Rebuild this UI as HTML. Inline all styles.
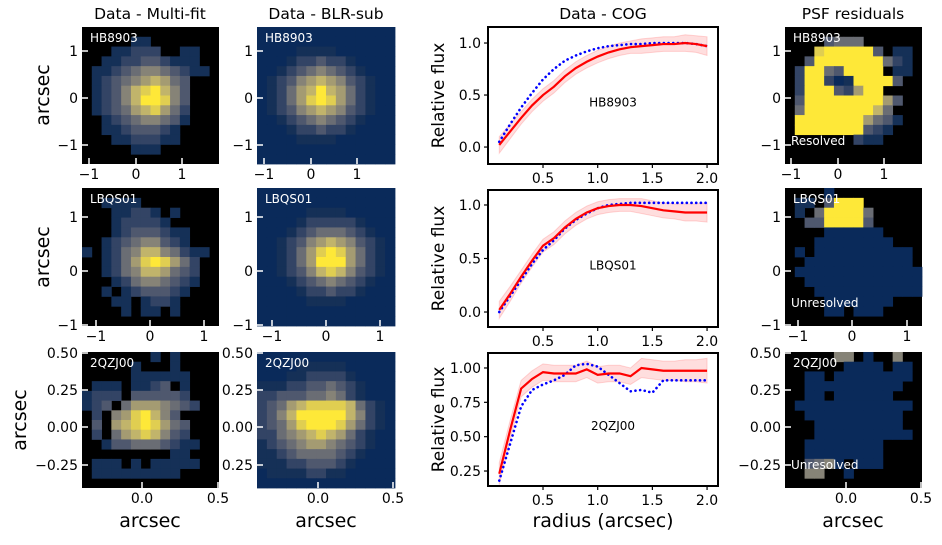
<!DOCTYPE html>
<html><head><meta charset="utf-8"><style>
body{margin:0;background:#fff;}
svg{display:block;font-family:"DejaVu Sans","Liberation Sans",sans-serif;}
</style></head><body>
<svg id="fig" width="942" height="545" viewBox="0 0 942 545" xmlns="http://www.w3.org/2000/svg"></svg>
<script>
// ---------- data ----------
const radius = [0.1,0.2,0.3,0.4,0.5,0.6,0.7,0.8,0.9,1.0,1.1,1.2,1.3,1.4,1.5,1.6,1.7,1.8,1.9,2.0];
const hbRed  = [0.02,0.15,0.28,0.40,0.50,0.58,0.68,0.76,0.82,0.87,0.91,0.94,0.96,0.97,0.98,0.99,0.99,1.0,0.99,0.97];
const hbBlue = [0.05,0.22,0.38,0.52,0.65,0.75,0.83,0.88,0.92,0.95,0.97,0.98,0.99,0.99,1.0,1.0,1.0,1.0,0.99,0.97];
const lbRed  = [0.02,0.17,0.33,0.48,0.62,0.69,0.79,0.87,0.93,0.97,0.99,1.0,1.0,0.99,0.97,0.95,0.94,0.93,0.93,0.93];
const lbBlue = [0.0,0.15,0.30,0.45,0.58,0.67,0.78,0.86,0.92,0.97,1.0,1.01,1.02,1.02,1.02,1.02,1.02,1.02,1.02,1.02];
const qzRed  = [0.23,0.55,0.85,0.92,0.97,0.96,0.96,0.96,0.99,0.95,0.96,0.96,0.94,1.0,0.99,0.98,0.98,0.98,0.98,0.98];
const qzBlue = [0.18,0.45,0.72,0.84,0.88,0.91,0.95,1.02,1.03,1.01,0.95,0.89,0.83,0.84,0.82,0.91,0.91,0.91,0.91,0.91];
const bandHalf = [0.08,0.07,0.06,0.06,0.06,0.06,0.06,0.06,0.06,0.06,0.06,0.06,0.06,0.07,0.07,0.07,0.07,0.08,0.08,0.09];
const xTicksCog = [0.5,1.0,1.5,2.0];
const yTicksCog12 = [0.0,0.5,1.0];
const yTicksCog3 = [0.25,0.50,0.75,1.00];

const gridA=["..............",".....11.......","...11222..11..","..1122332111..",".112345543211.",".1234567643...",".1235789753...",".1235799853...",".1234678642...","..123455431...","..11233321....","...1122211....",".....111......",".............."];
const gridB=["00000000000000","00000000000000","00001111000000","00012232210000","00123454321000","01235676532100","01246797642100","01246898642100","01235676532100","00123454321000","00012232210000","00001111000000","00000000000000","00000000000000"];
const gridC=["..............","..1111........","...11221.1....","...122221.....","...12333211...","..123455321...","1.12457754211.","..1246898642..","..1245776432..","...124554321..","..1.1233321...","...11.1221....","....1.11.1....",".............."];
const gridD=["00000000000000","00000000000000","00000111100000","00001222221000","00012344432100","00123567653210","00124689864210","00124699964210","00123578753210","00012345432100","00001223221000","00000111100000","00000000000000","00000000000000"];
const gridE=[".......1.1....",".....1...1....",".....111111...",".111.1123.1...","1222.333332...","123.46665432..",".2.5689753....",".3.67898643...",".2.46787532...","..1334443211..",".........11...",".111.1.11111..",".111111111....",".............."];
const gridF=["00000000000000","00001111100000","00011222210000","11122334321000","22333445421000","23467888874210","23579999975210","23468999864210","22456787642100","12345665432100","11234444321000","11122333210000","01111221100000","00000000000000"];
const gridG=["..............","....3444......","...8999993.11.","..39999999421.",".299439999.11.",".29920199993..",".299932699....",".39999999963..",".4999999974...",".99999996431..",".9999999321...",".......211....","..............",".............."];
const gridH=["....0.........",".11.3999......",".1.499994.....","..3399993.....","....000000....","...00000000...",".0.0000000000.","..00000000000.",".0000000000000","..000000000000","...00000000000","....0000000...","....00.000....",".............."];
const gridI=[".....55.0..5..","......0000.00.","..00.00000000.","..0000000000..","..00.000000...",".000000000000.","..0000000000..","...000000000..","...0000000000.","..00000000....","..00000000....","..3450.000....","..55..0.......",".............."];

// ---------- helpers ----------
const svg=document.getElementById('fig');
const NS='http://www.w3.org/2000/svg';
function mk(tag,attrs,parent){const e=document.createElementNS(NS,tag);for(const k in attrs)e.setAttribute(k,attrs[k]);(parent||svg).appendChild(e);return e;}
function txt(x,y,s,size,anchor,parent,extra){const e=mk('text',Object.assign({x:x,y:y,'font-size':size,'text-anchor':anchor||'middle',fill:'#000'},extra||{}),parent);e.textContent=s;return e;}
const stops=[[0,[0,34,78]],[0.25,[65,77,107]],[0.5,[124,123,120]],[0.75,[188,175,111]],[1,[254,232,56]]];
function cividis(t){for(let i=1;i<stops.length;i++){if(t<=stops[i][0]){const a=stops[i-1],b=stops[i];const f=(t-a[0])/(b[0]-a[0]);const c=a[1].map((v,j)=>Math.round(v+(b[1][j]-v)*f));return 'rgb('+c.join(',')+')';}}return 'rgb(254,232,56)';}
function colorOf(ch){if(ch==='0')return 'rgb(10,42,90)';return cividis(0.08+0.92*(parseInt(ch)-1)/8);}

function heat(grid,x0,y0,w,h,name,label,label2){
  const g=mk('g',{});
  
  
  mk('rect',{x:x0,y:y0,width:w,height:h,fill:'#000'},g);
  const n=grid.length,m=grid[0].length,cw=w/m,ch=h/n;
  grid.forEach((row,r)=>{for(let c=0;c<m;c++){const v=row[c];if(v==='.')continue;
    const cell=mk('rect',{x:(x0+c*cw).toFixed(2),y:(y0+r*ch).toFixed(2),width:(cw+0.4).toFixed(2),height:(ch+0.4).toFixed(2),fill:colorOf(v)},g);
    
    
  }});
  const t=txt(x0+8,y0+15,label,12,'start',g,{fill:'#fff'});
  
  
  if(label2){const t2=txt(x0+6,y0+h-19,label2,12,'start',g,{fill:'#fff'});
    
    }
}
function imgTicks(x0,y0,w,h,xt,yt){
  xt.forEach(([px,l])=>{mk('line',{x1:px,x2:px,y1:y0+h,y2:y0+h-6,stroke:'#fff','stroke-width':1.5});
    const t=txt(px,y0+h+15,l,14,'middle');});
  yt.forEach(([py,l])=>{mk('line',{x1:x0,x2:x0+6,y1:py,y2:py,stroke:'#fff','stroke-width':1.5});
    const t=txt(x0-4,py+5,l,14,'end');});
}
function cog(y0,h,ymin,ymax,red,blue,yt,fmt,label){
  const x0=488,w=230,xmin=-0.003,xmax=2.1;
  const X=v=>x0+(v-xmin)/(xmax-xmin)*w, Y=v=>y0+h-(v-ymin)/(ymax-ymin)*h;
  const g=mk('g',{});
  
  
  const cp='clip'+label;const cl=mk('clipPath',{id:cp},g);mk('rect',{x:x0,y:y0,width:w,height:h},cl);
  let up=radius.map((r,i)=>X(r)+','+Y(red[i]+bandHalf[i])).join(' ');
  let dn=radius.map((r,i)=>X(r)+','+Y(red[i]-bandHalf[i])).reverse().join(' ');
  const band=mk('polygon',{points:up+' '+dn,fill:'rgba(255,0,0,0.13)',stroke:'rgba(255,0,0,0.15)','clip-path':'url(#'+cp+')'},g);
  
  const bl=mk('polyline',{points:radius.map((r,i)=>X(r)+','+Y(blue[i])).join(' '),fill:'none',stroke:'#00f','stroke-width':2.6,'stroke-dasharray':'0.1 4.6','stroke-linecap':'round'},g);
  
  const rl=mk('polyline',{points:radius.map((r,i)=>X(r)+','+Y(red[i])).join(' '),fill:'none',stroke:'#f00','stroke-width':2.2},g);
  
  mk('rect',{x:x0,y:y0,width:w,height:h,fill:'none',stroke:'#000','stroke-width':2},g);
  xTicksCog.forEach(v=>{mk('line',{x1:X(v),x2:X(v),y1:y0+h,y2:y0+h+4,stroke:'#000','stroke-width':1.2},g);
    const t=txt(X(v),y0+h+19,v.toFixed(1),14,'middle',g);});
  yt.forEach(v=>{mk('line',{x1:x0-4,x2:x0,y1:Y(v),y2:Y(v),stroke:'#000','stroke-width':1.2},g);
    const t=txt(x0-7,Y(v)+5,v.toFixed(fmt),14,'end',g);});
  const tl=txt(613,y0+h*0.58,label,12,'middle',g);
  const yl=txt(0,0,'Relative flux',17,'middle',g,{transform:'translate(444,'+(y0+h/2)+') rotate(-90)'});
  
}

// ---------- titles ----------
[['Data - Multi-fit',150],['Data - BLR-sub',326],['Data - COG',603],['PSF residuals',853]].forEach(([s,x])=>{
  const t=txt(x,19,s,15.5,'middle');});

// ---------- images ----------
heat(gridA,82,27,137,137,'multifit-hb8903','HB8903');
heat(gridB,257,27,138,137,'blrsub-hb8903','HB8903');
heat(gridG,785,27,137,137,'psf-residual-hb8903','HB8903','Resolved');
heat(gridC,82,188,137,138,'multifit-lbqs01','LBQS01');
heat(gridD,257,188,138,138,'blrsub-lbqs01','LBQS01');
heat(gridH,785,188,137,138,'psf-residual-lbqs01','LBQS01','Unresolved');
heat(gridE,82,352,137,136,'multifit-2qzj00','2QZJ00');
heat(gridF,257,352,138,136,'blrsub-2qzj00','2QZJ00');
heat(gridI,785,352,137,136,'psf-residual-2qzj00','2QZJ00','Unresolved');

imgTicks(82,27,137,137,[[89,'\u22121'],[136,'0'],[182,'1']],[[51,'1'],[98,'0'],[145,'\u22121']]);
imgTicks(257,27,138,137,[[264,'\u22121'],[311,'0'],[357,'1']],[[51,'1'],[98,'0'],[145,'\u22121']]);
imgTicks(785,27,137,137,[[791,'\u22121'],[838,'0'],[884,'1']],[[51,'1'],[98,'0'],[145,'\u22121']]);
imgTicks(82,188,137,138,[[96,'\u22121'],[150,'0'],[204,'1']],[[217,'1'],[271,'0'],[325,'\u22121']]);
imgTicks(257,188,138,138,[[272,'\u22121'],[326,'0'],[380,'1']],[[217,'1'],[271,'0'],[325,'\u22121']]);
imgTicks(785,188,137,138,[[798,'\u22121'],[852,'0'],[907,'1']],[[217,'1'],[271,'0'],[325,'\u22121']]);
imgTicks(82,352,137,136,[[142,'0.0'],[218,'0.5']],[[353,'0.50'],[390,'0.25'],[427,'0.00'],[465,'\u22120.25']]);
imgTicks(257,352,138,136,[[318,'0.0'],[393,'0.5']],[[353,'0.50'],[390,'0.25'],[427,'0.00'],[465,'0.25']]);
imgTicks(785,352,137,136,[[846,'0.0'],[921,'0.5']],[[353,'0.50'],[390,'0.25'],[427,'0.00'],[465,'\u22120.25']]);

// axis titles
[[42,95],[42,257],[19,420]].forEach(([x,y])=>{const t=txt(0,0,'arcsec',19,'middle',svg,{transform:'translate('+(x+7)+','+y+') rotate(-90)'});
  });
[[150,'arcsec'],[326,'arcsec'],[853,'arcsec'],[603,'radius (arcsec)']].forEach(([x,s])=>{
  const t=txt(x,527,s,19,'middle');});

// ---------- COG ----------
cog(27,137,-0.163,1.154,hbRed,hbBlue,yTicksCog12,1,'HB8903');
cog(190,137,-0.14,1.14,lbRed,lbBlue,yTicksCog12,1,'LBQS01');
cog(353,133,0.141,1.109,qzRed,qzBlue,yTicksCog3,2,'2QZJ00');
</script>
</body></html>
